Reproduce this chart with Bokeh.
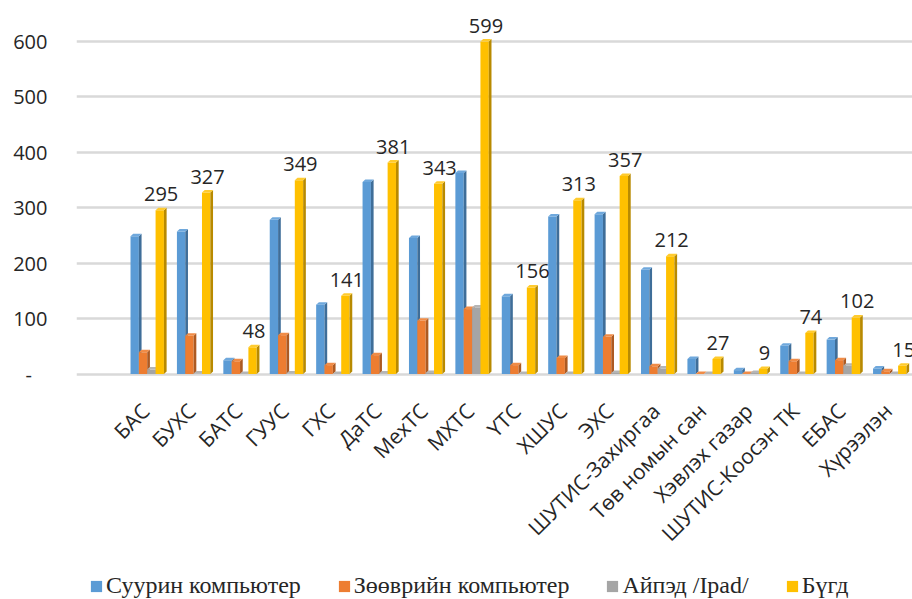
import math
from bokeh.plotting import figure
from bokeh.models import Range1d, FixedTicker, Legend, LegendItem, ColumnDataSource
from bokeh.embed import file_html
from bokeh.resources import INLINE
from bokeh.core.properties import value

categories = ["БАС", "БУХС", "БАТС", "ГУУС", "ГХС", "ДаТС", "МехТС", "МХТС", "ҮТС",
              "ХШУС", "ЭХС", "ШУТИС-Захиргаа", "Төв номын сан", "Хэвлэх газар",
              "ШУТИС-Коосэн ТК", "ЕБАС", "Хүрээлэн"]
desktop = [248, 257, 25, 278, 125, 346, 245, 362, 140, 284, 288, 188, 27, 7, 51, 62, 10]
laptop = [39, 69, 23, 70, 16, 34, 96, 117, 16, 29, 67, 14, 0, 0, 23, 25, 5]
ipad = [8, 1, 0, 1, 0, 1, 2, 120, 0, 0, 2, 10, 0, 2, 0, 15, 0]
total = [295, 327, 48, 349, 141, 381, 343, 599, 156, 313, 357, 212, 27, 9, 74, 102, 15]
series_names = ["Суурин компьютер", "Зөөврийн компьютер", "Айпэд /Ipad/", "Бүгд"]
y_ticks = [0, 100, 200, 300, 400, 500, 600]
y_tick_labels = ["-\u00a0\u00a0\u00a0", "100", "200", "300", "400", "500", "600"]

front_colors = ["#5B9BD5", "#ED7D31", "#A5A5A5", "#FFC000"]
side_colors = ["#3F6E99", "#AD5A22", "#767676", "#B88A00"]
top_colors = ["#6FA8DC", "#F08C47", "#B5B5B5", "#FFCB2E"]

FONT = "Open Sans"
TXT = "#262626"

p = figure(width=912, height=599, output_backend="svg", toolbar_location=None,
           x_range=Range1d(-1.524, 16.49), y_range=Range1d(-406.3, 673.0),
           x_axis_location=None,
           min_border_left=76, min_border_right=0, min_border_top=0, min_border_bottom=0)
p.outline_line_color = None
p.background_fill_color = "white"
p.border_fill_color = "white"

p.xgrid.grid_line_color = None
p.ygrid.grid_line_color = "#D9D9D9"
p.ygrid.grid_line_width = 2.5
p.ygrid.ticker = FixedTicker(ticks=y_ticks)

n = len(categories)
xs_idx = list(range(n))
w = 0.18
offsets = [-0.27, -0.09, 0.09, 0.27]
dx = 0.058
dy = 4.5

renderers = []
for k, vals in enumerate([desktop, laptop, ipad, total]):
    lefts = [i + offsets[k] - w / 2 for i in xs_idx]
    rights = [i + offsets[k] + w / 2 for i in xs_idx]
    src = ColumnDataSource(dict(left=lefts, right=rights, top=vals, bottom=[0] * n))
    r = p.quad(left="left", right="right", top="top", bottom="bottom", source=src,
               fill_color=front_colors[k], line_color=None)
    renderers.append(r)
    side_x = [[rr, rr + dx, rr + dx, rr] for rr in rights]
    side_y = [[0, dy, v + dy, v] for v in vals]
    p.patches(side_x, side_y, fill_color=side_colors[k], line_color=None)
    top_x = [[ll, ll + dx, rr + dx, rr] for ll, rr in zip(lefts, rights)]
    top_y = [[v, v + dy, v + dy, v] for v in vals]
    p.patches(top_x, top_y, fill_color=top_colors[k], line_color=None)

# value labels over the total bars
label_src = ColumnDataSource(dict(x=[i + offsets[3] + 0.03 for i in xs_idx], y=total,
                                  t=[str(v) for v in total]))
p.text(x="x", y="y", text="t", source=label_src, text_align="center",
       text_baseline="alphabetic", y_offset=-16, text_font=value(FONT),
       text_font_size="20px", text_color=TXT)

# category labels (rotated 45 degrees under each group)
cat_src = ColumnDataSource(dict(x=[i - 0.04 for i in xs_idx], y=[0] * n, t=categories))
p.text(x="x", y="y", text="t", source=cat_src, angle=math.pi / 4,
       text_align="right", text_baseline="middle", y_offset=33,
       text_font=value(FONT), text_font_size="21px", text_color=TXT)

# y axis
p.yaxis.ticker = FixedTicker(ticks=y_ticks)
p.yaxis.major_label_overrides = {t: l for t, l in zip(y_ticks, y_tick_labels)}
p.yaxis.axis_line_color = None
p.yaxis.major_tick_line_color = None
p.yaxis.minor_tick_line_color = None
p.yaxis.major_tick_out = 0
p.yaxis.major_tick_in = 0
p.yaxis.major_label_standoff = 29
p.yaxis.major_label_text_font = FONT
p.yaxis.major_label_text_font_size = "20px"
p.yaxis.major_label_text_color = TXT

legend = Legend(items=[LegendItem(label=nm, renderers=[r]) for nm, r in zip(series_names, renderers)],
                location=(13, 0), orientation="horizontal")
legend.label_text_font = "Liberation Serif"
legend.label_text_font_size = "24px"
legend.label_text_color = TXT
legend.glyph_width = 14
legend.glyph_height = 14
legend.label_standoff = 3
legend.spacing = 36
legend.padding = 0
legend.margin = 0
legend.border_line_color = None
legend.background_fill_alpha = 0
p.add_layout(legend)

open("out.html", "w").write(file_html(p, INLINE))
